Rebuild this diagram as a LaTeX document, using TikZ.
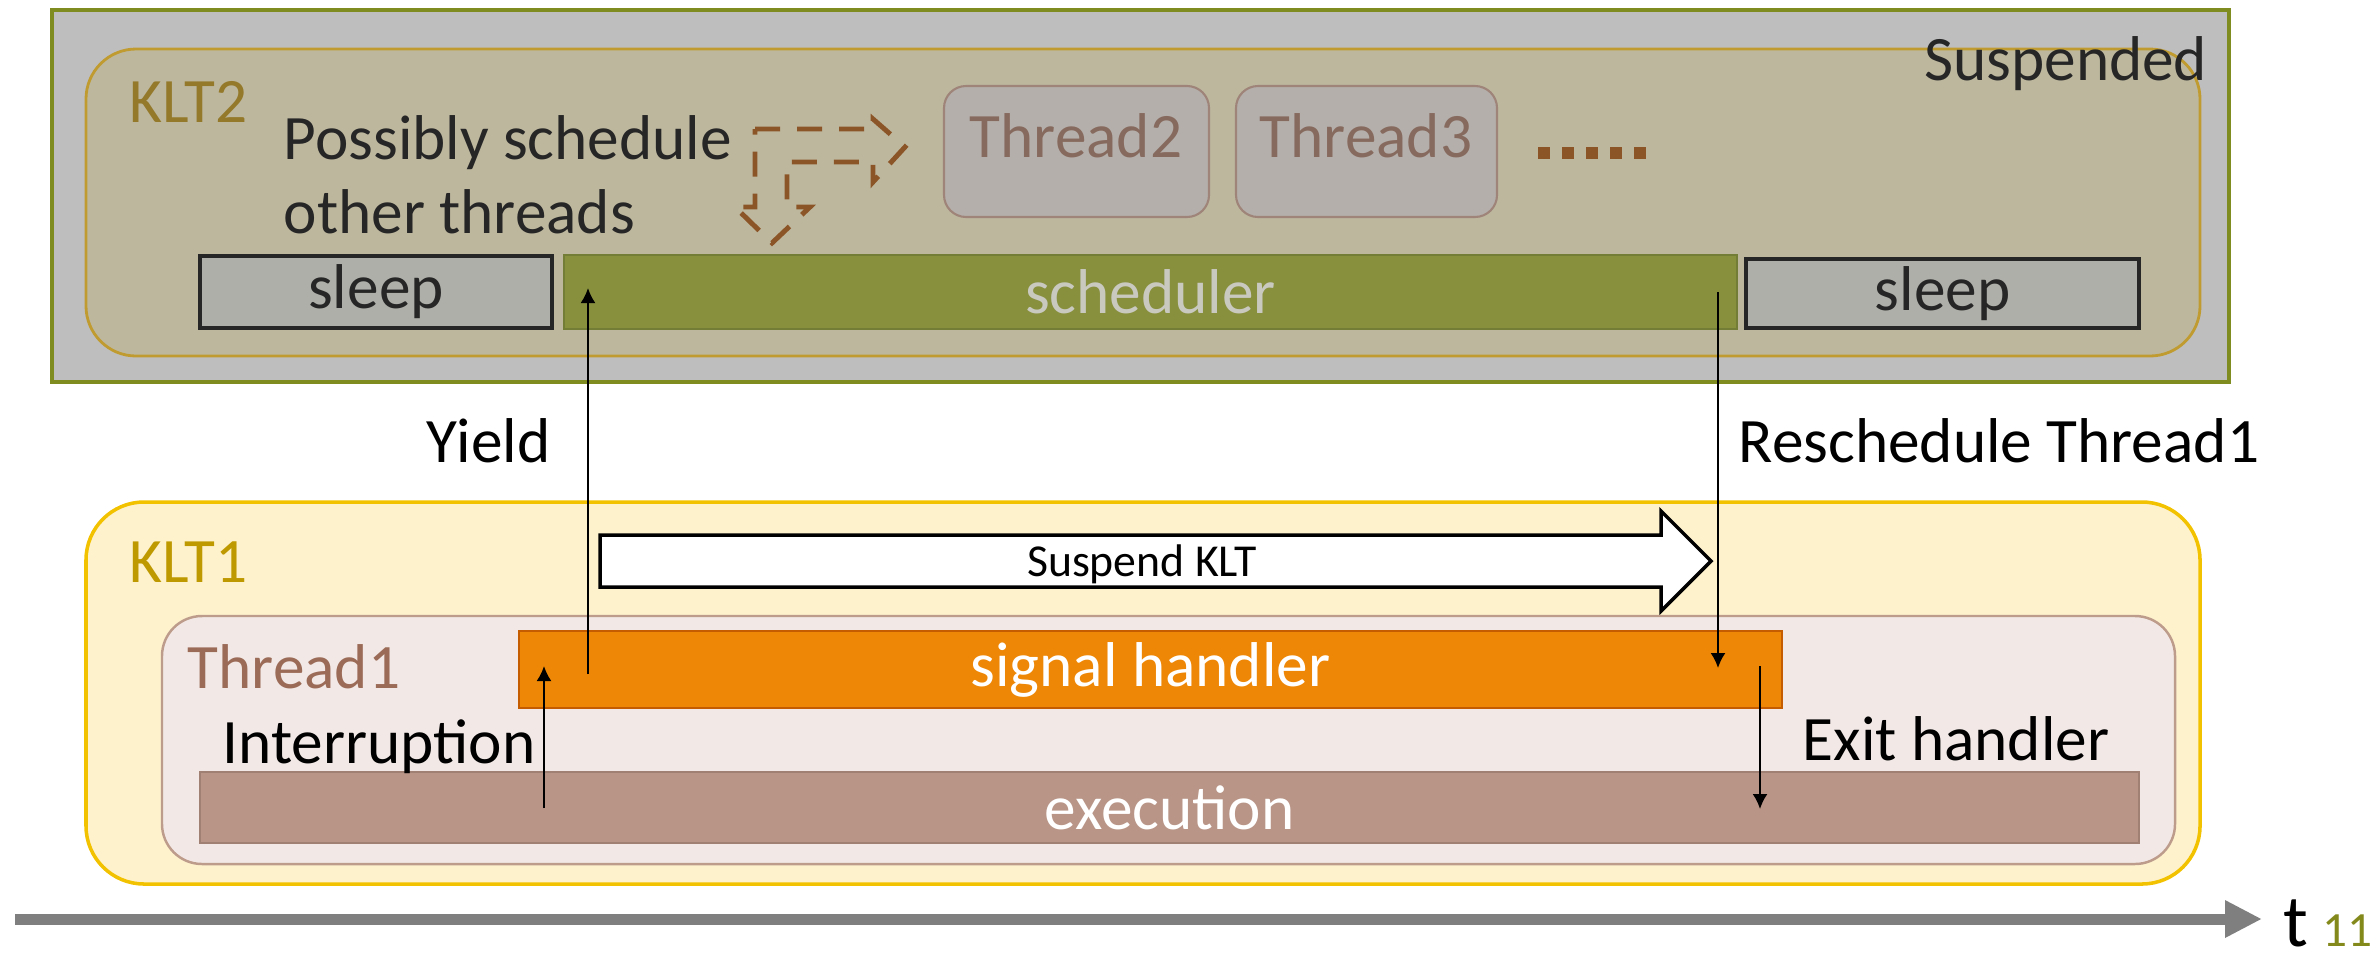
\documentclass[tikz,border=0pt]{standalone}
\usepackage{fontspec}
\setmainfont{Carlito}
\usetikzlibrary{arrows.meta,fit}
\definecolor{suspfill}{HTML}{BEBEBE}
\definecolor{suspline}{HTML}{7F8C1F}
\definecolor{kltBfill}{HTML}{BDB79E}
\definecolor{kltBline}{HTML}{BF9B30}
\definecolor{kltBtext}{HTML}{94792A}
\definecolor{thfill}{HTML}{B4AFAB}
\definecolor{thline}{HTML}{9E8479}
\definecolor{thtext}{HTML}{876A5E}
\definecolor{sleepfill}{HTML}{AFAFAA}
\definecolor{schedfill}{HTML}{88903E}
\definecolor{schedline}{HTML}{737D36}
\definecolor{schedtext}{HTML}{C9C9C0}
\definecolor{brownish}{HTML}{8C5527}
\definecolor{kltAfill}{HTML}{FEF2CC}
\definecolor{kltAline}{HTML}{F2C100}
\definecolor{kltAtext}{HTML}{BF9900}
\definecolor{thAfill}{HTML}{F2E9E6}
\definecolor{thAline}{HTML}{BE9C8C}
\definecolor{thAtext}{HTML}{9C6B58}
\definecolor{hdlfill}{HTML}{EE8706}
\definecolor{hdlline}{HTML}{C55C00}
\definecolor{execfill}{HTML}{B99587}
\definecolor{execline}{HTML}{A08072}
\definecolor{axis}{HTML}{7F7F7F}
\definecolor{slidenum}{HTML}{84891C}
\tikzset{
  txt/.style={font=\fontsize{18}{21}\selectfont, inner sep=0pt},
  bar/.style={draw, line width=0.7pt, inner sep=0pt},
  panel/.style={draw, line width=1pt, inner sep=0pt},
  thbox/.style={draw=thline, fill=thfill, line width=0.6pt, inner sep=0pt, rounded corners=0.22cm},
  arr/.style={line width=0.6pt, -{Latex[length=0.15cm,width=0.15cm]}},
}
\begin{document}
\begin{tikzpicture}[x=0.01cm,y=-0.01cm]
\useasboundingbox (0,0) rectangle (2379,960);
\node (susp) [panel, draw=suspline, fill=suspfill, fit={(52,10) (2229,382)}] {};
\node (kltB) [panel, line width=0.8pt, draw=kltBline, fill=kltBfill, rounded corners=0.5cm, fit={(86,49) (2200,356)}] {};
\node (thrB) [thbox, fit={(944,86) (1209,217)}] {};
\node (thrC) [thbox, fit={(1236,86) (1497,217)}] {};
\node [txt, text=thtext, anchor=base] at (1076,157) {Thread2};
\node [txt, text=thtext, anchor=base] at (1366,157) {Thread3};
\draw[brownish, line width=1.4pt, dash pattern=on 0.25cm off 0.17cm]
  (755,129) -- (873,129) -- (873,119) -- (905,147) -- (873,182) -- (873,162) -- (787,162)
  -- (787,207) -- (810,207) -- (772,243) -- (735,207) -- (755,207) -- cycle;
\draw[brownish, line width=0.12cm, dash pattern=on 0.12cm off 0.12cm] (1538,153) -- (1650,153);
\node (sleepA) [bar, line width=1pt, draw=black!85, fill=sleepfill, fit={(200,256) (552,328)},
  label={[txt, text=black!85]center:sleep}] {};
\node (sched) [bar, draw=schedline, fill=schedfill, fit={(564,255) (1737,329)},
  label={[txt, text=schedtext]center:scheduler}] {};
\node (sleepB) [bar, line width=1pt, draw=black!85, fill=sleepfill, fit={(1746,259) (2139,328)},
  label={[txt, text=black!85]center:sleep}] {};
\node [txt, text=kltBtext, anchor=base west] at (129,122) {KLT2};
\node [txt, text=black!85, anchor=base east] at (2208,80) {Suspended};
\node [txt, text=black!85, anchor=base west, align=left] at (283,233) {Possibly schedule\\other threads};
\node (kltA) [panel, draw=kltAline, fill=kltAfill, rounded corners=0.58cm, fit={(86,502) (2200,884)}] {};
\draw[line width=1pt, fill=white] (600,535) -- (1661,535) -- (1661,511) -- (1711,561) -- (1661,611)
  -- (1661,587) -- (600,587) -- cycle;
\node [font=\fontsize{13}{15}\selectfont, inner sep=0pt, anchor=base] at (1142,576) {Suspend KLT};
\node (thrA) [panel, line width=0.7pt, draw=thAline, fill=thAfill, rounded corners=0.4cm, fit={(162,616) (2175,864)}] {};
\node (hdl) [bar, draw=hdlline, fill=hdlfill, fit={(519,631) (1782,708)},
  label={[txt, text=white]center:signal handler}] {};
\node (exec) [bar, draw=execline, fill=execfill, fit={(200,772) (2139,843)},
  label={[txt, text=white]center:execution}] {};
\node [txt, text=kltAtext, anchor=base west] at (129,582) {KLT1};
\node [txt, text=thAtext, anchor=base west] at (187,688) {Thread1};
\node [txt, anchor=base east] at (536,763) {Interruption};
\node [txt, anchor=base west] at (1802,760) {Exit handler};
\node [txt, anchor=base east] at (551,462) {Yield};
\node [txt, anchor=base west] at (1738,462) {Reschedule Thread1};
\coordinate (yieldA) at (588,674);
\coordinate (yieldB) at (588,288);
\coordinate (reschA) at (1718,292);
\coordinate (reschB) at (1718,668);
\coordinate (intA) at (544,808);
\coordinate (intB) at (544,666);
\coordinate (exitA) at (1760,666);
\coordinate (exitB) at (1760,809);
\coordinate (t0) at (15,919);
\coordinate (t1) at (2262,919);
\draw[arr] (yieldA) -- (yieldB);
\draw[arr] (reschA) -- (reschB);
\draw[arr] (intA) -- (intB);
\draw[arr] (exitA) -- (exitB);
\draw[axis, line width=0.11cm, -{Triangle[length=0.37cm,width=0.35cm]}] (t0) -- (t1);
\node [font=\fontsize{21}{24}\selectfont, inner sep=0pt, anchor=base west] at (2283,946) {t};
\node [font=\fontsize{14}{16}\selectfont, text=slidenum, inner sep=0pt, anchor=base west] at (2322,946) {11};
\end{tikzpicture}
\end{document}
